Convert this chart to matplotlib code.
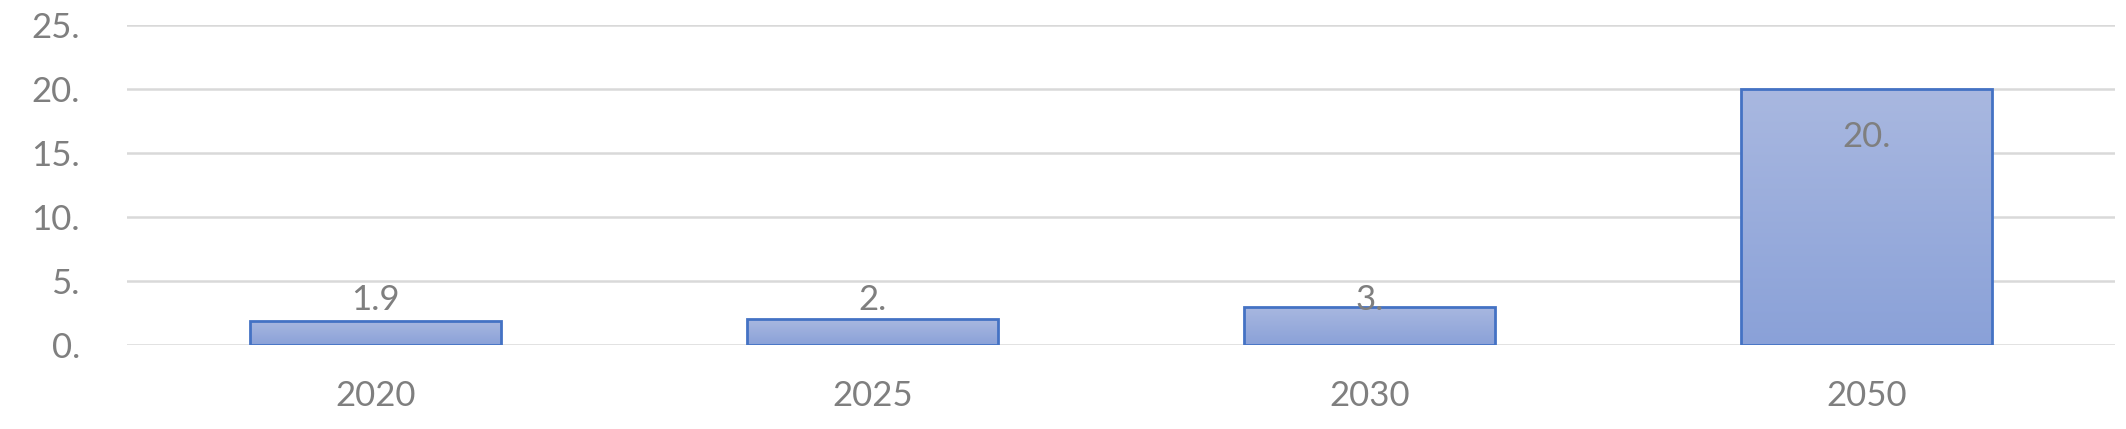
import numpy as np
import matplotlib.pyplot as plt
from matplotlib.colors import LinearSegmentedColormap

years = ['2020', '2025', '2030', '2050']
values = [1.9, 2.0, 3.0, 20.0]
labels = ['1.9', '2.', '3.', '20.']
yticks = [0, 5, 10, 15, 20, 25]
ytick_labels = ['0.', '5.', '10.', '15.', '20.', '25.']

grey = '#7f7f7f'
plt.rcParams['font.family'] = ['Lato', 'DejaVu Sans']

fig = plt.figure(figsize=(21.26, 4.29), dpi=100)
ax = fig.add_axes([127/2126, 1-345/429, (2115-127)/2126, 320/429])

x = np.arange(len(years))
bars = ax.bar(x, values, width=0.505, color='none', edgecolor='#4472C4',
              linewidth=2.0, zorder=3)

# vertical gradient inside each bar
cmap = LinearSegmentedColormap.from_list('g', ['#8aa1d8', '#a9b8e0'])
grad = np.linspace(0, 1, 256).reshape(-1, 1)
for b in bars:
    x0, y0 = b.get_x(), b.get_y()
    w, h = b.get_width(), b.get_height()
    im = ax.imshow(grad, cmap=cmap, origin='lower', aspect='auto',
                   extent=[x0, x0 + w, y0, y0 + h], zorder=2)
    im.set_clip_path(b)

# data labels
for xi, v, lab in zip(x, values, labels):
    ly = max(v - 3.75, 3.5)
    ax.text(xi, ly, lab, ha='center', va='center', fontsize=25, color=grey, zorder=4)

ax.set_xlim(-0.5, len(years) - 0.5)
ax.set_ylim(0, 25)
ax.set_yticks(yticks)
ax.set_yticklabels(ytick_labels)
ax.set_xticks(x)
ax.set_xticklabels(years)
ax.tick_params(axis='both', length=0, labelsize=25, labelcolor=grey)
ax.tick_params(axis='y', pad=34)
ax.tick_params(axis='x', pad=25)
ax.grid(axis='y', color='#d9d9d9', linewidth=1.8, zorder=0)
ax.set_axisbelow(True)
for s in ax.spines.values():
    s.set_visible(False)

fig.savefig('out.png', dpi=100)
